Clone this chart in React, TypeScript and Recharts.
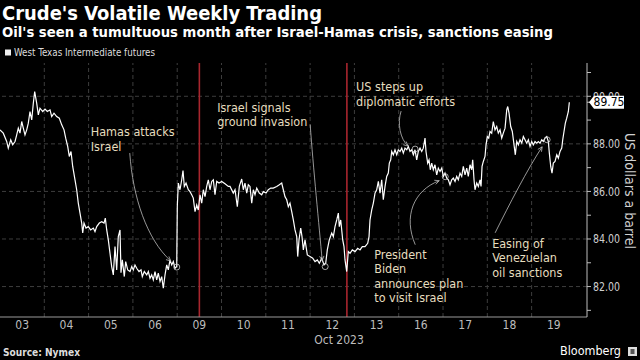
import React from 'react';
import { LineChart, Line, XAxis, YAxis, ReferenceLine, ReferenceDot } from 'recharts';

// trading days shown on the axis (Oct 2023)
const dayLabels = ['03', '04', '05', '06', '09', '10', '11', '12', '13', '16', '17', '18', '19'];
const priceTicks = [81, 82, 83, 84, 85, 86, 87, 88, 89, 90, 91];
const gridLevels = [82, 84, 86, 88, 90];
const redMarkers = [4.5, 7.83];
const lastPrice = 89.75;

// [trading-day index, US$ a barrel]
const wti: [number, number][] = [
  [0.0, 88.59], [0.074, 88.45], [0.151, 88.1], [0.187, 87.82], [0.242, 88.17], [0.287, 87.96],
  [0.339, 88.1], [0.377, 88.38], [0.413, 88.66], [0.451, 88.45], [0.49, 88.94], [0.526, 88.66],
  [0.564, 88.38], [0.603, 88.59], [0.639, 88.87], [0.677, 89.36], [0.716, 89.01], [0.752, 89.71],
  [0.783, 90.2], [0.828, 89.71], [0.865, 89.22], [0.903, 89.5], [0.964, 89.36], [1.016, 89.46],
  [1.068, 89.36], [1.129, 89.43], [1.167, 89.15], [1.219, 89.29], [1.28, 89.15], [1.339, 89.08],
  [1.393, 88.8], [1.445, 88.59], [1.483, 88.24], [1.528, 87.89], [1.564, 87.47], [1.603, 87.68],
  [1.641, 87.05], [1.693, 86.49], [1.731, 86.07], [1.767, 85.51], [1.806, 85.09], [1.844, 84.67],
  [1.867, 84.25], [1.896, 84.67], [1.941, 84.46], [1.993, 84.52], [2.047, 84.38], [2.106, 84.46],
  [2.144, 84.31], [2.183, 84.52], [2.242, 84.67], [2.296, 84.73], [2.348, 84.67], [2.377, 84.88],
  [2.409, 84.38], [2.445, 83.96], [2.483, 83.4], [2.521, 82.84], [2.558, 82.49], [2.596, 83.68],
  [2.634, 82.7], [2.67, 84.1], [2.709, 84.38], [2.731, 82.58], [2.761, 83.12], [2.806, 82.42],
  [2.837, 83.05], [2.883, 82.7], [2.935, 82.63], [2.973, 82.84], [3.009, 82.7], [3.047, 82.91],
  [3.086, 82.77], [3.138, 82.63], [3.183, 82.7], [3.212, 82.42], [3.257, 82.63], [3.312, 82.49],
  [3.348, 82.63], [3.386, 82.35], [3.424, 82.49], [3.46, 82.28], [3.499, 82.63], [3.537, 82.28],
  [3.573, 82.56], [3.612, 82.21], [3.65, 82.42], [3.686, 81.93], [3.725, 82.49], [3.763, 82.91],
  [3.799, 82.7], [3.837, 83.12], [3.876, 82.91], [3.912, 83.05], [3.95, 82.77], [3.989, 82.84],
  [4.002, 85.36], [4.025, 86.35], [4.063, 86.07], [4.102, 86.49], [4.131, 86.88], [4.16, 86.21],
  [4.199, 86.35], [4.251, 86.07], [4.289, 85.99], [4.327, 85.86], [4.363, 85.72], [4.402, 85.15],
  [4.44, 85.43], [4.476, 85.22], [4.515, 85.86], [4.553, 85.51], [4.589, 86.07], [4.628, 85.78],
  [4.666, 86.21], [4.702, 86.49], [4.74, 86.07], [4.779, 86.42], [4.815, 86.49], [4.853, 85.86],
  [4.892, 86.42], [4.944, 86.35], [5.005, 86.42], [5.079, 86.32], [5.154, 86.21], [5.192, 86.21],
  [5.266, 85.93], [5.305, 86.07], [5.357, 85.36], [5.402, 86.21], [5.456, 86.52], [5.492, 86.07],
  [5.53, 86.35], [5.569, 85.93], [5.605, 86.28], [5.643, 86.21], [5.682, 85.51], [5.718, 86.07],
  [5.756, 85.86], [5.795, 86.14], [5.853, 85.93], [5.907, 85.86], [5.944, 85.99], [6.005, 85.93],
  [6.056, 86.07], [6.111, 86.14], [6.169, 86.14], [6.246, 86.21], [6.305, 86.28], [6.359, 86.35],
  [6.395, 86.07], [6.433, 85.78], [6.472, 85.65], [6.508, 85.36], [6.546, 85.51], [6.585, 85.15],
  [6.621, 84.8], [6.659, 84.38], [6.698, 84.1], [6.72, 83.26], [6.749, 83.96], [6.788, 84.46],
  [6.817, 84.1], [6.847, 83.54], [6.885, 83.96], [6.937, 83.33], [6.998, 83.26], [7.059, 83.19],
  [7.111, 83.05], [7.163, 83.12], [7.208, 82.98], [7.262, 83.19], [7.314, 82.91], [7.352, 82.98],
  [7.388, 83.54], [7.433, 83.96], [7.488, 84.25], [7.524, 84.1], [7.562, 84.52], [7.601, 84.8],
  [7.637, 85.09], [7.659, 84.52], [7.691, 84.8], [7.736, 83.96], [7.765, 83.68], [7.788, 83.12],
  [7.826, 82.63], [7.862, 83.47], [7.901, 83.4], [7.953, 83.54], [8.014, 83.47], [8.074, 83.61],
  [8.126, 83.54], [8.178, 83.68], [8.239, 83.68], [8.3, 83.82], [8.33, 84.1], [8.352, 84.8],
  [8.391, 85.22], [8.427, 85.51], [8.465, 85.93], [8.503, 86.07], [8.54, 86.42], [8.578, 85.93],
  [8.616, 86.49], [8.652, 85.65], [8.691, 86.21], [8.729, 86.63], [8.765, 86.77], [8.788, 87.19],
  [8.819, 87.33], [8.842, 87.68], [8.878, 87.54], [8.916, 87.75], [8.955, 87.54], [8.991, 87.75],
  [9.029, 87.68], [9.068, 87.82], [9.104, 87.61], [9.142, 87.82], [9.181, 87.75], [9.217, 87.89],
  [9.255, 87.68], [9.293, 87.75], [9.33, 87.54], [9.368, 87.75], [9.406, 87.33], [9.442, 87.68],
  [9.481, 87.82], [9.519, 87.68], [9.555, 87.82], [9.594, 88.24], [9.616, 87.68], [9.654, 87.19],
  [9.684, 87.33], [9.713, 86.91], [9.745, 87.19], [9.781, 86.91], [9.819, 87.12], [9.858, 86.7],
  [9.894, 86.98], [9.932, 86.84], [9.971, 86.98], [10.007, 86.63], [10.045, 86.77], [10.084, 86.56],
  [10.12, 86.49], [10.158, 86.28], [10.196, 86.49], [10.233, 86.56], [10.271, 86.42], [10.309, 86.63],
  [10.345, 86.49], [10.384, 86.77], [10.422, 86.63], [10.458, 87.05], [10.497, 86.7], [10.535, 86.98],
  [10.571, 86.63], [10.609, 87.12], [10.648, 86.91], [10.67, 87.33], [10.7, 86.49], [10.722, 86.07],
  [10.761, 86.35], [10.797, 86.21], [10.835, 86.49], [10.858, 86.21], [10.881, 87.05], [10.91, 87.26],
  [10.948, 87.47], [10.971, 87.96], [11.0, 88.31], [11.032, 88.24], [11.061, 88.52], [11.099, 88.45],
  [11.135, 88.94], [11.174, 88.59], [11.212, 88.73], [11.248, 88.45], [11.287, 88.59], [11.325, 88.24],
  [11.361, 88.45], [11.4, 88.66], [11.438, 89.43], [11.461, 89.57], [11.49, 89.29], [11.528, 88.73],
  [11.564, 88.52], [11.603, 87.96], [11.632, 87.54], [11.664, 88.1], [11.7, 87.96], [11.738, 88.17],
  [11.777, 88.03], [11.813, 88.31], [11.851, 88.17], [11.889, 88.03], [11.926, 88.17], [11.964, 87.89],
  [12.002, 88.1], [12.038, 87.96], [12.077, 88.1], [12.115, 88.03], [12.151, 88.1], [12.19, 88.03],
  [12.228, 88.17], [12.264, 88.1], [12.302, 88.24], [12.341, 88.31], [12.377, 88.1], [12.4, 87.61],
  [12.431, 87.05], [12.46, 86.77], [12.49, 87.19], [12.528, 87.26], [12.567, 87.54], [12.603, 87.4],
  [12.641, 87.68], [12.68, 87.82], [12.702, 88.17], [12.731, 88.52], [12.761, 88.87], [12.792, 89.08],
  [12.829, 89.36], [12.851, 89.75],
];

const annotationText = [
  ['Hamas attacks', 'Israel'],
  ['Israel signals', 'ground invasion'],
  ['US steps up', 'diplomatic efforts'],
  ['President', 'Biden', 'announces plan', 'to visit Israel'],
  ['Easing of', 'Venezuelan', 'oil sanctions'],
];
const annotationAt: [number, number][] = [
  [3.99, 82.82],
  [7.34, 82.84],
  [9.37, 87.78],
  [10.05, 86.62],
  [12.35, 88.17],
];

// text offset + arrow (cubic) relative to the marked point, in px
const NOTE_LAYOUT = [
  { tx: -86, ty: -136, arrow: [[-47, -114], [-44, -70], [-30, -28], [-6, -6]] },
  { tx: -108, ty: -160, arrow: [[-15, -142], [-12, -100], [-6, -40], [-3, -6]] },
  { tx: -59, ty: -63, arrow: [[-14, -38], [-18, -26], [-15, -10], [-7, -3]] },
  { tx: -71, ty: 77, arrow: [[-30, 68], [-42, 40], [-32, 14], [-6, 4]] },
  { tx: -55, ty: 103, arrow: [[-52, 93], [-38, 65], [-20, 30], [-5, 7]] },
];

const FONT = '"DejaVu Sans Condensed", "Liberation Sans Narrow", "DejaVu Sans", sans-serif';
const NOTE_COLOR = '#e6ddbf';
const data = wti.map(([t, p]) => ({ t, p }));

function NoteMark(props: any) {
  const { cx, cy, idx } = props;
  if (cx == null || cy == null) return null;
  const lay = NOTE_LAYOUT[idx];
  const [a, b, c, d] = lay.arrow;
  const ang = Math.atan2(d[1] - c[1], d[0] - c[0]);
  const head = (s: number) => `M${cx + d[0]},${cy + d[1]} L${cx + d[0] - 5 * Math.cos(ang + s)},${cy + d[1] - 5 * Math.sin(ang + s)}`;
  return (
    <g>
      <circle cx={cx} cy={cy} r={3} fill="none" stroke="#cfcfcf" strokeWidth={0.8} />
      <path
        d={`M${cx + a[0]},${cy + a[1]} C${cx + b[0]},${cy + b[1]} ${cx + c[0]},${cy + c[1]} ${cx + d[0]},${cy + d[1]}`}
        fill="none"
        stroke="#bdbdbd"
        strokeWidth={0.8}
      />
      <path d={head(0.45) + ' ' + head(-0.45)} stroke="#bdbdbd" strokeWidth={0.8} fill="none" />
      <text x={cx + lay.tx} y={cy + lay.ty} fill={NOTE_COLOR} fontSize={12.5} fontFamily={FONT} dominantBaseline="central">
        {annotationText[idx].map((s, i) => (
          <tspan key={i} x={cx + lay.tx} dy={i === 0 ? 0 : 14.5}>{s}</tspan>
        ))}
      </text>
    </g>
  );
}

// right-axis tick: even levels labelled, odd ones bare, last price as a tag
function PriceTick(props: any) {
  const { x, y, payload } = props;
  const v = payload.value;
  if (v === lastPrice) {
    const tx = x - 4;
    return (
      <g>
        <path d={`M${tx},${y} L${tx + 5},${y - 6.5} L${tx + 35},${y - 6.5} L${tx + 35},${y + 6.5} L${tx + 5},${y + 6.5} Z`} fill="#fff" />
        <text x={tx + 20} y={y} fill="#000" fontSize={12} fontFamily={FONT} textAnchor="middle" dominantBaseline="central">
          {v.toFixed(2)}
        </text>
      </g>
    );
  }
  if (v % 2 !== 0) return null;
  return (
    <text x={x} y={y} fill="#d0d0d0" fontSize={13} fontFamily={FONT} dominantBaseline="central" textLength={27} lengthAdjust="spacingAndGlyphs">
      {v.toFixed(2)}
    </text>
  );
}

export default function App() {
  return (
    <div style={{ position: 'absolute', left: 0, top: 0, width: 640, height: 360, background: '#000', fontFamily: FONT, overflow: 'hidden' }}>
      <LineChart width={640} height={360} data={data} margin={{ top: 63, right: 0, bottom: 0, left: 0 }}>
        {gridLevels.map((v) => (
          <ReferenceLine key={'h' + v} y={v} stroke="#3d3d3d" strokeDasharray="4 3" />
        ))}
        {dayLabels.slice(1).map((_, i) => (
          <ReferenceLine key={'v' + i} x={i + 1} stroke="#3d3d3d" strokeDasharray="4 3" />
        ))}
        {redMarkers.map((v) => (
          <ReferenceLine key={'r' + v} x={v} stroke="#a8262e" strokeWidth={1.6} />
        ))}
        <XAxis
          type="number"
          dataKey="t"
          domain={[0, 13.25]}
          allowDataOverflow
          ticks={dayLabels.map((_, i) => i + 0.5)}
          tickFormatter={(v) => dayLabels[Math.floor(v)]}
          height={43}
          axisLine={{ stroke: '#9a9a9a' }}
          tickLine={false}
          tickMargin={-3}
          tick={{ fill: '#bdbdbd', fontSize: 12 }}
        />
        <YAxis
          orientation="right"
          type="number"
          domain={[80.72, 91.4]}
          allowDataOverflow
          ticks={[...priceTicks, lastPrice]}
          interval={0}
          width={53}
          tickSize={4}
          tickMargin={2}
          axisLine={{ stroke: '#bdbdbd' }}
          tickLine={{ stroke: '#bdbdbd' }}
          tick={<PriceTick />}
        />
        <Line
          type="linear"
          dataKey="p"
          stroke="#ffffff"
          strokeWidth={1.2}
          dot={false}
          isAnimationActive={false}
        />
        {annotationAt.map(([t, p], i) => (
          <ReferenceDot key={'n' + i} x={t} y={p} r={3} shape={(props: any) => <NoteMark {...props} idx={i} />} />
        ))}
      </LineChart>
      <svg width={640} height={360} style={{ position: 'absolute', left: 0, top: 0, pointerEvents: 'none' }}>
        <text x={2} y={19.5} fill="#fff" fontSize={19} fontWeight="bold" fontFamily={FONT} textLength={320} lengthAdjust="spacingAndGlyphs">
          Crude's Volatile Weekly Trading
        </text>
        <text x={2} y={37} fill="#fff" fontSize={14.5} fontWeight="bold" fontFamily={FONT} textLength={551} lengthAdjust="spacingAndGlyphs">
          Oil's seen a tumultuous month after Israel-Hamas crisis, sanctions easing
        </text>
        <rect x={5} y={49.5} width={6} height={6} fill="#eee" />
        <text x={14} y={55.5} fill="#ddd" fontSize={10} fontFamily={FONT} textLength={141} lengthAdjust="spacingAndGlyphs">
          West Texas Intermediate futures
        </text>
        <text x={339} y={344} fill="#bdbdbd" fontSize={12} fontFamily={FONT} textAnchor="middle">
          Oct 2023
        </text>
        <text transform="translate(630,191) rotate(90)" fill="#d0d0d0" fontSize={14} fontFamily={FONT} textAnchor="middle" dominantBaseline="central">
          US dollars a barrel
        </text>
        <text x={3} y={356} fill="#ddd" fontSize={10} fontWeight="bold" fontFamily={FONT} textLength={77} lengthAdjust="spacingAndGlyphs">
          Source: Nymex
        </text>
        <text x={560} y={355} fill="#fff" fontSize={13} fontFamily={FONT} textLength={61} lengthAdjust="spacingAndGlyphs">
          Bloomberg
        </text>
        <rect x={628} y={347} width={9} height={9} fill="#ddd" />
        <rect x={630.5} y={349} width={4} height={5} fill="#555" />
      </svg>
    </div>
  );
}
